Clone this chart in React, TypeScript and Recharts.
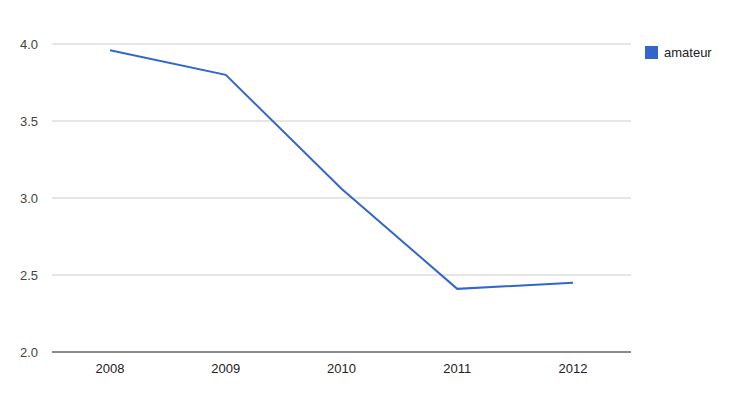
import { LineChart, Line, XAxis, YAxis, CartesianGrid } from 'recharts';

const years = ['2008', '2009', '2010', '2011', '2012'];
const amateur = [3.96, 3.8, 3.06, 2.41, 2.45];
const yTicks = [2.0, 2.5, 3.0, 3.5, 4.0];

const data = years.map((year, i) => ({ year, amateur: amateur[i] }));

const LINE_COLOR = '#3366cc';

export default function App() {
  return (
    <div style={{ position: 'absolute', left: 0, top: 0, fontFamily: '"Liberation Sans", Arial, sans-serif' }}>
      <LineChart width={734} height={413} data={data} margin={{ top: 44, right: 103, bottom: 31, left: 0 }}>
        <CartesianGrid vertical={false} stroke="#cccccc" />
        <XAxis
          dataKey="year"
          padding={{ left: 58, right: 58 }}
          tickLine={false}
          axisLine={{ stroke: '#333333' }}
          tickSize={0}
          tickMargin={12}
          height={30}
          tick={{ fill: '#222222', fontSize: 13 }}
        />
        <YAxis
          domain={[2, 4]}
          ticks={yTicks}
          width={52}
          axisLine={false}
          tickLine={false}
          tickSize={0}
          tickMargin={14}
          tickFormatter={(v: number) => v.toFixed(1)}
          tick={{ fill: '#444444', fontSize: 13 }}
        />
        <Line
          type="linear"
          dataKey="amateur"
          stroke={LINE_COLOR}
          strokeWidth={2}
          dot={false}
          activeDot={false}
          isAnimationActive={false}
        />
      </LineChart>
      <div style={{ position: 'absolute', left: 645, top: 45, display: 'flex', alignItems: 'center' }}>
        <span style={{ width: 13, height: 13, background: LINE_COLOR, display: 'inline-block', marginRight: 6 }} />
        <span style={{ fontSize: 13, color: '#222' }}>amateur</span>
      </div>
    </div>
  );
}
